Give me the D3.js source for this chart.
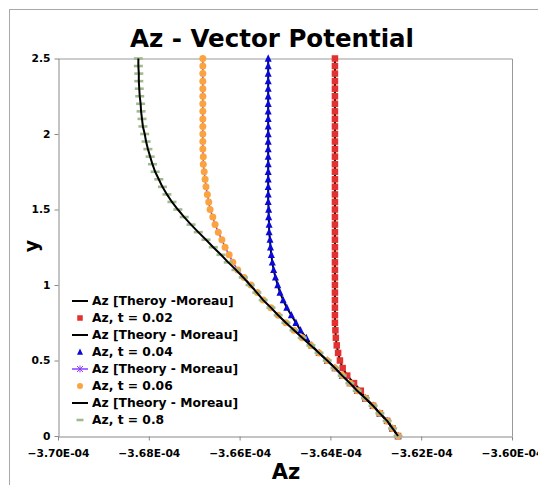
<!DOCTYPE html>
<html><head><meta charset="utf-8">
<script src="https://cdn.jsdelivr.net/npm/d3@7"></script>
<style>body{margin:0;background:#fff;} text{font-family:"DejaVu Sans",Verdana,sans-serif;font-weight:bold;}</style>
</head><body><svg id="c" width="538" height="485"></svg>
<script>
// y positions (shared by all series)
const yVals = [0,0.05,0.1,0.15,0.2,0.25,0.3,0.35,0.4,0.45,0.5,0.55,0.6,0.65,0.7,0.75,0.8,0.85,0.9,0.95,1,1.05,1.1,1.15,1.2,1.25,1.3,1.35,1.4,1.45,1.5,1.55,1.6,1.65,1.7,1.75,1.8,1.85,1.9,1.95,2,2.05,2.1,2.15,2.2,2.25,2.3,2.35,2.4,2.45,2.5];
// Az values in units of 1E-04
const azT002 = [-3.6251,-3.6263,-3.6275,-3.6291,-3.6306,-3.6323,-3.6333,-3.6348,-3.6363,-3.6373,-3.6379,-3.6383,-3.6386,-3.6388,-3.6389,-3.6390,-3.6390,-3.6390,-3.6390,-3.6390,-3.6390,-3.6390,-3.6390,-3.6390,-3.6390,-3.6390,-3.6390,-3.6390,-3.6390,-3.6390,-3.6390,-3.6390,-3.6390,-3.6390,-3.6390,-3.6390,-3.6390,-3.6390,-3.6390,-3.6390,-3.6390,-3.6390,-3.6390,-3.6390,-3.6390,-3.6390,-3.6390,-3.6390,-3.6390,-3.6390,-3.6390];
const azT004 = [-3.6251,-3.6263,-3.6275,-3.6291,-3.6306,-3.6323,-3.6341,-3.6357,-3.6374,-3.6390,-3.6407,-3.6425,-3.6441,-3.6453,-3.6466,-3.6476,-3.6486,-3.6496,-3.6504,-3.6511,-3.6516,-3.6521,-3.6525,-3.6528,-3.6530,-3.6532,-3.6533,-3.6535,-3.6535,-3.6536,-3.6536,-3.6537,-3.6537,-3.6537,-3.6537,-3.6537,-3.6537,-3.6537,-3.6537,-3.6537,-3.6537,-3.6537,-3.6537,-3.6537,-3.6537,-3.6537,-3.6537,-3.6537,-3.6537,-3.6537,-3.6537];
const azT006 = [-3.6251,-3.6263,-3.6275,-3.6291,-3.6306,-3.6323,-3.6341,-3.6357,-3.6374,-3.6390,-3.6407,-3.6425,-3.6443,-3.6462,-3.6480,-3.6498,-3.6515,-3.6531,-3.6548,-3.6561,-3.6575,-3.6590,-3.6604,-3.6615,-3.6623,-3.6632,-3.6639,-3.6647,-3.6654,-3.6659,-3.6665,-3.6668,-3.6671,-3.6674,-3.6676,-3.6678,-3.6680,-3.6680,-3.6681,-3.6681,-3.6681,-3.6681,-3.6681,-3.6681,-3.6681,-3.6681,-3.6681,-3.6681,-3.6681,-3.6681,-3.6681];
const azT08 = [-3.6251,-3.6263,-3.6275,-3.6291,-3.6306,-3.6323,-3.6341,-3.6357,-3.6374,-3.6390,-3.6407,-3.6425,-3.6443,-3.6462,-3.6480,-3.6498,-3.6515,-3.6531,-3.6548,-3.6562,-3.6577,-3.6592,-3.6608,-3.6625,-3.6641,-3.6658,-3.6674,-3.6691,-3.6707,-3.6722,-3.6736,-3.6749,-3.6760,-3.6770,-3.6778,-3.6786,-3.6792,-3.6797,-3.6802,-3.6806,-3.6809,-3.6813,-3.6815,-3.6817,-3.6818,-3.6820,-3.6821,-3.6822,-3.6822,-3.6823,-3.6823];
const xTicks = [-3.70,-3.68,-3.66,-3.64,-3.62,-3.60];
const yTicks = [0,0.5,1,1.5,2,2.5];
const legendLabels = ["Az [Theroy -Moreau]","Az, t = 0.02","Az [Theory - Moreau]","Az, t = 0.04","Az [Theory - Moreau]","Az, t = 0.06","Az [Theory - Moreau]","Az, t = 0.8"];

const C = {red:"#e3312f", blue:"#0a0ad8", purple:"#8a3dff", orange:"#fba43f", green:"#9fbb8c", black:"#000"};

const svg = d3.select("#c");
const x = d3.scaleLinear().domain([-3.70,-3.60]).range([58,512]);
const y = d3.scaleLinear().domain([0,2.5]).range([436,58.5]);

// outer chart frame
svg.append("rect").attr("x",9.5).attr("y",9.5).attr("width",640).attr("height",640)
  .attr("fill","none").attr("stroke","#a8a8a8");

// plot area top/right border
svg.append("path").attr("d",`M${x(-3.70)},${y(2.5)+0.5}H${x(-3.60)+0.5}V${y(0)}`)
  .attr("fill","none").attr("stroke","#999");

// axes
const gx = svg.append("g").attr("transform",`translate(0,${y(0)+0.5})`)
  .call(d3.axisBottom(x).tickValues(xTicks).tickSize(4).tickSizeOuter(0).tickPadding(8.5)
    .tickFormat(d => d3.format(".2f")(d) + "E-04"));
const gy = svg.append("g").attr("transform",`translate(${x(-3.70)+0.5},0)`)
  .call(d3.axisLeft(y).tickValues(yTicks).tickSize(4).tickSizeOuter(0).tickPadding(4)
    .tickFormat(d => String(d)));
[gx,gy].forEach(g => {
  g.select(".domain").attr("stroke","#888");
  g.selectAll(".tick line").attr("stroke","#888");
  g.selectAll(".tick text").attr("font-size","10.7px").attr("fill","#000")
    .attr("font-family","DejaVu Sans").attr("font-weight","bold");
});

const pts = arr => yVals.map((v,i)=>[arr[i], v]);
const line = d3.line().x(d=>x(d[0])).y(d=>y(d[1]));
const plot = svg.append("g");

function drawLine(arr, color, w){
  plot.append("path").datum(pts(arr)).attr("d",line).attr("fill","none")
    .attr("stroke",color).attr("stroke-width",w);
}
const sym = {
  square: (g,cx,cy,s,c)=> g.append("rect").attr("x",cx-s/2).attr("y",cy-s/2).attr("width",s).attr("height",s).attr("fill",c),
  tri: (g,cx,cy,s,c)=> g.append("path").attr("d",`M${cx},${cy-s*0.6}L${cx+s/2},${cy+s*0.45}L${cx-s/2},${cy+s*0.45}Z`).attr("fill",c),
  circle: (g,cx,cy,s,c)=> g.append("circle").attr("cx",cx).attr("cy",cy).attr("r",s/2).attr("fill",c),
  dash: (g,cx,cy,s,c)=> g.append("rect").attr("x",cx-s/2).attr("y",cy-1.3).attr("width",s).attr("height",2.6).attr("fill",c)
};
function drawMarkers(arr, kind, s, color){
  const g = plot.append("g");
  pts(arr).forEach(d => sym[kind](g, x(d[0]), y(d[1]), s, color));
}

// series in legend order
drawLine(azT002, C.black, 2);
drawMarkers(azT002, "square", 6.5, C.red);
drawLine(azT004, C.black, 2);
drawMarkers(azT004, "tri", 7, C.blue);
drawLine(azT006, C.purple, 1.5);
drawMarkers(azT006, "circle", 7, C.orange);
drawMarkers(azT08, "dash", 9, C.green);
drawLine(azT08, C.black, 2);

// titles
svg.append("text").attr("x",272).attr("y",47).attr("text-anchor","middle").attr("font-size","24.5px").text("Az - Vector Potential");
svg.append("text").attr("x",286).attr("y",479).attr("text-anchor","middle").attr("font-size","21px").text("Az");
svg.append("text").attr("transform","translate(38,246) rotate(-90)").attr("text-anchor","middle").attr("font-size","19px").text("y");

// legend
const lg = svg.append("g");
legendLabels.forEach((lab,i)=>{
  const cy = 301 + 17*i;
  if (i===0 || i===2 || i===6) lg.append("line").attr("x1",72).attr("x2",88).attr("y1",cy).attr("y2",cy).attr("stroke","#000").attr("stroke-width",2);
  if (i===1) sym.square(lg,80,cy,5.5,C.red);
  if (i===3) sym.tri(lg,80,cy,6,C.blue);
  if (i===4){
    lg.append("line").attr("x1",72).attr("x2",88).attr("y1",cy).attr("y2",cy).attr("stroke",C.purple).attr("stroke-width",1.5);
    lg.append("path").attr("d",`M77,${cy-3}L83,${cy+3}M83,${cy-3}L77,${cy+3}M80,${cy-3.5}V${cy+3.5}`).attr("stroke",C.purple).attr("stroke-width",1);
  }
  if (i===5) sym.circle(lg,80,cy,6,C.orange);
  if (i===7) sym.dash(lg,80,cy,7,C.green);
  lg.append("text").attr("x",92).attr("y",cy).attr("dy","0.36em").attr("font-size","12.3px").text(lab);
});
</script></body></html>
